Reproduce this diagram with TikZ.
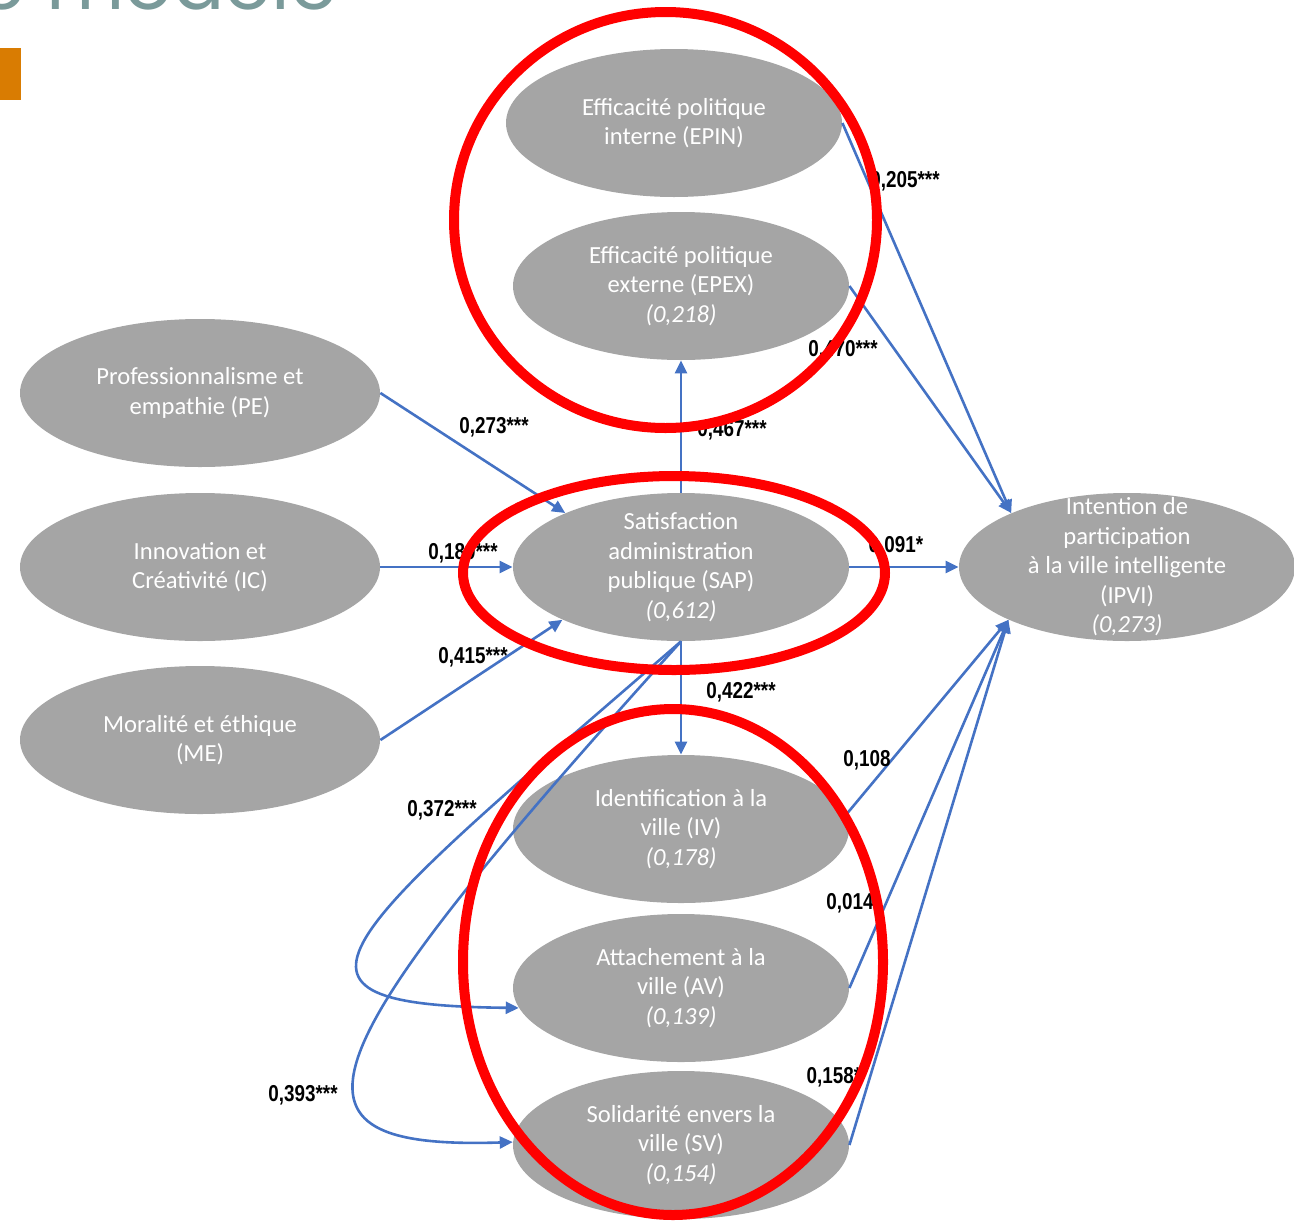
\documentclass[tikz,border=0pt]{standalone}
\usepackage{fontspec}
\setmainfont{Carlito}
\newfontfamily\coeffont[FakeStretch=0.82]{Liberation Sans}
\newfontfamily\titrefont{Poppins}
\usetikzlibrary{shapes.geometric,arrows.meta}
\definecolor{ellgray}{RGB}{165,165,165}
\definecolor{lienblue}{RGB}{68,114,196}
\definecolor{cerclered}{RGB}{255,0,0}
\definecolor{titregray}{RGB}{122,154,154}
\definecolor{barreorange}{RGB}{217,124,2}
\tikzset{
  var/.style={ellipse, fill=ellgray, minimum width=168pt, minimum height=74pt, inner sep=0pt},
  varL/.style={var, minimum width=180pt},
  vtxt/.style={text=white, align=center, inner sep=0pt, font=\fontsize{12.3}{14.75}\selectfont},
  lien/.style={lienblue, line width=1.3pt, -{Triangle[length=6.5pt,width=6pt]}},
  coef/.style={inner sep=0pt, font={\coeffont\bfseries\fontsize{11.5}{13}\selectfont}},
  cercle/.style={ellipse, draw=cerclered, line width=5pt, inner sep=0pt},
  titre/.style={anchor=base east, inner sep=0pt, text=titregray, font={\titrefont\fontsize{38}{38}\selectfont}}
}

\begin{document}
\begin{tikzpicture}[x=0.5pt,y=-0.5pt]
    \pgfmathsetmacro{\colL}{200}
    \pgfmathsetmacro{\colM}{681}
    \pgfmathsetmacro{\colR}{1127}
    \pgfmathsetmacro{\rowM}{567}

    \useasboundingbox (0,0) rectangle (1294,1221);
    \clip (0,0) rectangle (1294,1221);

    % haut de la diapo
    \node[titre] (titre) at (338,9) {Le modèle};
    \fill[barreorange] (0,48) rectangle (21,100);

    % variables
    \node[var, label={[vtxt]center:{Efficacité politique\\interne (EPIN)}}] (epin) at (674,123) {};
    \node[var, label={[vtxt]center:{Efficacité politique\\externe (EPEX)\\\textit{(0,218)}}}] (epex) at (\colM,286) {};
    \node[varL, label={[vtxt]center:{Professionnalisme et\\empathie (PE)}}] (pe) at (\colL,393) {};
    \node[varL, label={[vtxt]center:{Innovation et\\Créativité (IC)}}] (ic) at (\colL,\rowM) {};
    \node[varL, label={[vtxt]center:{Moralité et éthique\\(ME)}}] (me) at (\colL,740) {};
    \node[var, label={[vtxt]center:{Satisfaction\\administration\\publique (SAP)\\\textit{(0,612)}}}] (sap) at (\colM,\rowM) {};
    \node[var, label={[vtxt]center:{Intention de\\participation\\à la ville intelligente\\(IPVI)\\\textit{(0,273)}}}] (ipvi) at (\colR,\rowM) {};
    \node[var, label={[vtxt]center:{Identification à la\\ville (IV)\\\textit{(0,178)}}}] (iv) at (\colM,829) {};
    \node[var, label={[vtxt]center:{Attachement à la\\ville (AV)\\\textit{(0,139)}}}] (av) at (\colM,988) {};
    \node[var, label={[vtxt]center:{Solidarité envers la\\ville (SV)\\\textit{(0,154)}}}] (sv) at (\colM,1145) {};

    % liens
    \draw[lien] (pe.east) -- (sap.155.6);
    \draw[lien] (ic.east) -- (sap.west);
    \draw[lien] (me.east) -- (sap.204.4);
    \draw[lien] (sap.north) -- (epex.south);
    \draw[lien] (sap.south) -- (iv.north);
    \draw[lien] (sap.east) -- (ipvi.west);
    \draw[lien] (epin.east) -- (ipvi.155.6);
    \draw[lien] (epex.east) -- (ipvi.155.6);
    \draw[lien] (iv.5) -- (ipvi.204.4);
    \draw[lien] (av.east) -- (ipvi.204.4);
    \draw[lien] (sv.east) -- (ipvi.204.4);
    \draw[lien] (sap.south) .. controls (330,945) and (250,1005) .. (av.187);
    \draw[lien] (sap.south) .. controls (300,1063) and (265,1150) .. (sv.179);

    % coefficients
    \node[coef] (c205) at (905,181) {0,205***};
    \node[coef] (c470) at (843,350) {0,470***};
    \node[coef] (c273) at (494,427) {0,273***};
    \node[coef] (c467) at (732,430) {0,467***};
    \node[coef] (c180) at (463,553) {0,180***};
    \node[coef] (c091) at (896,546) {0,091*};
    \node[coef] (c415) at (473,657) {0,415***};
    \node[coef] (c422) at (741,692) {0,422***};
    \node[coef] (c108) at (867,760) {0,108};
    \node[coef] (c372) at (442,810) {0,372***};
    \node[coef] (c014) at (850,903) {0,014};
    \node[coef] (c158) at (834,1077) {0,158*};
    \node[coef] (c393) at (303,1095) {0,393***};

    % cercles rouges
    \node[cercle, minimum width=211.5pt, minimum height=208pt] (cercleA) at (665.5,220) {};
    \node[cercle, minimum width=211pt, minimum height=97pt] (cercleB) at (674,573) {};
    \node[cercle, minimum width=210pt, minimum height=253pt] (cercleC) at (673,962) {};
\end{tikzpicture}
\end{document}
